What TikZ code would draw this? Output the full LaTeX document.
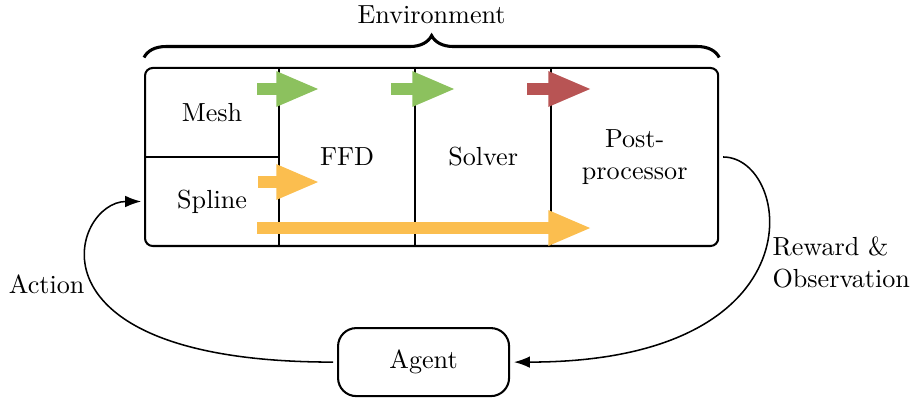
\documentclass[tikz,border=0pt]{standalone}
\usepackage{xcolor}
\usepackage{tikz}
\usetikzlibrary{arrows.meta, positioning, fit, calc, decorations.pathreplacing}
\definecolor{fgreen}{HTML}{8CC15E}
\definecolor{forange}{HTML}{FBBE4F}
\definecolor{fred}{HTML}{B85454}

\begin{document}
\begin{tikzpicture}[x=1cm, y=1cm, font=\fontsize{10.2pt}{12.6pt}\selectfont,
  cell/.style={inner sep=0pt, outer sep=0pt, align=center},
  flowarrow/.style={line width=4.7pt, -{Triangle[length=0.6cm, width=0.44cm]}},
  loopline/.style={semithick, -{Latex[length=2.2mm, width=1.6mm]}, shorten <=1.5pt, shorten >=1.5pt}]
\useasboundingbox (0,0) rectangle (12.51,5.447);
% environment cells
\node[cell, minimum width=1.839cm, minimum height=1.221cm] (mesh) at (2.909,3.904) {Mesh};
\node[cell, minimum width=1.839cm, minimum height=1.221cm, below=0pt of mesh] (spline) {Spline};
\node[cell, minimum width=1.866cm, minimum height=2.442cm, anchor=north west] (ffd) at (mesh.north east) {FFD};
\node[cell, minimum width=1.866cm, minimum height=2.442cm, anchor=north west] (solver) at (ffd.north east) {Solver};
\node[cell, minimum width=2.291cm, minimum height=2.442cm, anchor=north west] (post) at (solver.north east) {Post-\\processor};
\node[draw, thick, rounded corners=3pt, inner sep=0pt, fit=(mesh)(spline)(post)] (env) {};
\draw[thick] (mesh.south west) -- (mesh.south east);
\draw[thick] (ffd.north west) -- (ffd.south west);
\draw[thick] (solver.north west) -- (solver.south west);
\draw[thick] (post.north west) -- (post.south west);
% brace and title
\draw[very thick, decorate, decoration={brace, amplitude=0.3cm}]
  ([yshift=0.13cm]env.north west) -- ([yshift=0.13cm]env.north east)
  node[midway, above=0.32cm] (envlabel) {Environment};
% data flow
\draw[flowarrow, fgreen] (3.526,4.226) -- (4.390,4.226);
\draw[flowarrow, fgreen] (5.364,4.226) -- (6.256,4.226);
\draw[flowarrow, fred] (7.230,4.226) -- (8.122,4.226);
\draw[flowarrow, forange] (3.540,2.950) -- (4.390,2.950);
\draw[flowarrow, forange] (3.526,2.319) -- (8.122,2.319);
% agent loop
\node[draw, thick, rounded corners=0.25cm, minimum width=2.346cm, minimum height=0.933cm] (agent) at (5.810,0.480) {Agent};
\draw[loopline] (env.east) .. controls +(1.0,0) and +(4.3,0) .. (agent.east);
\draw[loopline] (agent.west) .. controls +(-4.4,0) and +(-1.0,0) .. (spline.west);
\node[inner sep=0pt, anchor=east] (action) at (1.166,1.55) {Action};
\node[inner sep=0pt, anchor=west, align=left] (reward) at (10.59,1.852) {Reward \&\\Observation};
\end{tikzpicture}
\end{document}
